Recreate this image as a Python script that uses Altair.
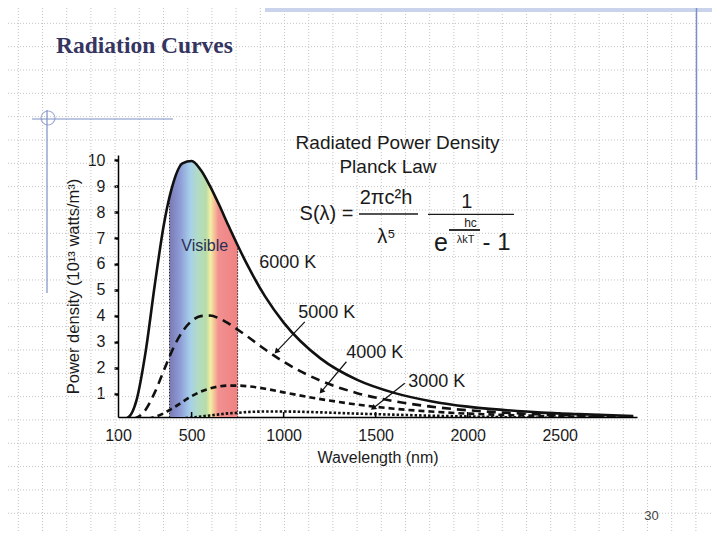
import altair as alt
import pandas as pd

# ---------------- data ----------------
wavelength_nm = [100, 150, 200, 250, 300, 350, 380, 400, 450, 500, 550, 600, 650,
                 700, 750, 800, 900, 1000, 1200, 1400, 1600, 1800, 2000, 2200,
                 2400, 2600, 2900]
s6000 = [0.00, 0.06, 0.73, 2.61, 5.20, 7.55, 8.59, 9.12, 9.88, 9.97, 9.62, 9.00, 8.27,
         7.48, 6.72, 6.00, 4.74, 3.74, 2.36, 1.53, 1.03, 0.71, 0.50, 0.37, 0.27, 0.21, 0.14]
s5000 = [0.00, 0.00, 0.07, 0.38, 1.05, 1.91, 2.43, 2.75, 3.39, 3.80, 3.99, 4.01, 3.90,
         3.71, 3.47, 3.22, 2.70, 2.23, 1.50, 1.02, 0.71, 0.50, 0.36, 0.27, 0.20, 0.16, 0.11]
s4000 = [0.00, 0.00, 0.00, 0.02, 0.10, 0.25, 0.37, 0.45, 0.68, 0.90, 1.08, 1.20, 1.28,
         1.31, 1.31, 1.29, 1.19, 1.05, 0.79, 0.58, 0.42, 0.31, 0.23, 0.18, 0.14, 0.11, 0.07]
s3000 = [0.00, 0.00, 0.00, 0.00, 0.00, 0.01, 0.02, 0.02, 0.05, 0.08, 0.12, 0.16, 0.20,
         0.24, 0.26, 0.29, 0.31, 0.31, 0.28, 0.23, 0.19, 0.15, 0.12, 0.09, 0.07, 0.06, 0.04]

visible_edges = [380, 750]
visible_edge_top = [8.59, 6.72]

label_text = ["Visible", "6000 K", "5000 K", "4000 K", "3000 K"]
label_x = [571, 1022, 1234, 1495, 1832]
label_y = [6.69, 6.04, 4.11, 2.57, 1.45]

arrow_x0 = [1115, 1341, 1658]
arrow_y0 = [3.77, 2.23, 1.40]
arrow_x1 = [961, 1205, 1486]
arrow_y1 = [2.62, 1.08, 0.44]
arrow_angle = [223, 220, 232]

x_ticks = [100, 500, 1000, 1500, 2000, 2500]
x_minor = [500, 1000, 1500, 2000, 2500]
y_ticks = [1, 2, 3, 4, 5, 6, 7, 8, 9, 10]

FONT = "Liberation Sans"
INK = "#1a1a1a"
W, H = 519, 262

# ---------------- tables ----------------
curves = {"6000": s6000, "5000": s5000, "4000": s4000, "3000": s3000}
curve_df = {k: pd.DataFrame({"lam": wavelength_nm, "s": v}) for k, v in curves.items()}
band_df = curve_df["6000"][(curve_df["6000"]["lam"] >= visible_edges[0]) &
                           (curve_df["6000"]["lam"] <= visible_edges[1])]
edge_df = pd.DataFrame({"lam": visible_edges, "s": visible_edge_top})
label_df = pd.DataFrame({"t": label_text, "lam": label_x, "s": label_y})
arrow_df = pd.DataFrame({"lam": arrow_x0, "s": arrow_y0, "x1": arrow_x1,
                         "y1": arrow_y1, "a": arrow_angle})
head_df = pd.DataFrame({"lam": arrow_x1, "s": arrow_y1, "a": arrow_angle})
tick_df = pd.DataFrame({"lam": x_minor})
one = pd.DataFrame({"d": [0]})

xs = alt.Scale(domain=[100, 2920], nice=False, zero=False)
ys = alt.Scale(domain=[0.1, 10.2], nice=False, zero=False)

x_axis = alt.Axis(values=x_ticks, format="d", labelFlush=False, grid=False, tickSize=0,
                  domainColor="black", domainWidth=1.5, labelFontSize=16,
                  labelColor=INK, labelFont=FONT, labelPadding=10,
                  title="Wavelength (nm)", titleFont=FONT, titleFontSize=16,
                  titleFontWeight="normal", titleColor=INK, titlePadding=6)
y_axis = alt.Axis(values=y_ticks, format="d", grid=False, tickSize=4, tickWidth=2.5,
                  tickColor="black", domainColor="black", domainWidth=1.5,
                  labelFontSize=16, labelColor=INK, labelFont=FONT, labelPadding=9,
                  title="Power density (10¹³ watts/m³)", titleFont=FONT,
                  titleFontSize=16.5, titleFontWeight="normal", titleColor=INK,
                  titlePadding=6)
X = alt.X("lam:Q", scale=xs, axis=x_axis)
Y = alt.Y("s:Q", scale=ys, axis=y_axis)

layers = []

# ---------------- slide background grid ----------------
grid_x = [18.3 + 24.2 * k - 118 for k in range(0, 30)]
grid_y = [23.33 * k - 155 for k in range(1, 23)]
for gx in grid_x:
    layers.append(alt.Chart(one).mark_rule(color="#c4c4c4", strokeDash=[1, 2], strokeWidth=1)
                  .encode(x=alt.value(gx), y=alt.value(-147), y2=alt.value(377)))
for gy in grid_y:
    layers.append(alt.Chart(one).mark_rule(color="#c4c4c4", strokeDash=[1, 2], strokeWidth=1)
                  .encode(y=alt.value(gy), x=alt.value(-110), x2=alt.value(594)))

# slide decorations
layers.append(alt.Chart(one).mark_rect(color="#c9d3ec")
              .encode(x=alt.value(147), x2=alt.value(594), y=alt.value(-147), y2=alt.value(-143)))
layers.append(alt.Chart(one).mark_rule(color="#7f8fc4", strokeWidth=1.5)
              .encode(x=alt.value(578.5), y=alt.value(-147), y2=alt.value(25)))
layers.append(alt.Chart(one).mark_rule(color="#7f8fc4", strokeWidth=1.2)
              .encode(x=alt.value(-86), x2=alt.value(55), y=alt.value(-36)))
layers.append(alt.Chart(one).mark_rule(color="#7f8fc4", strokeWidth=1.2)
              .encode(x=alt.value(-71), y=alt.value(-45), y2=alt.value(138)))
layers.append(alt.Chart(one).mark_point(shape="circle", size=196, color="#7f8fc4",
                                        strokeWidth=1.2, filled=False)
              .encode(x=alt.value(-70), y=alt.value(-37)))
layers.append(alt.Chart(one).mark_text(text="Radiation Curves", font="Liberation Serif",
                                       fontSize=23.5, fontWeight="bold", color="#35355f",
                                       align="left", baseline="alphabetic")
              .encode(x=alt.value(-62), y=alt.value(-102)))
layers.append(alt.Chart(one).mark_text(text="30", font=FONT, fontSize=13, color="#444444")
              .encode(x=alt.value(533.5), y=alt.value(361)))

# ---------------- chart ----------------
rainbow = alt.Gradient(
    gradient="linear", x1=0, x2=1, y1=0, y2=0,
    stops=[alt.GradientStop(color="#7a7ab2", offset=0.0),
           alt.GradientStop(color="#8d9ad6", offset=0.15),
           alt.GradientStop(color="#a6cfea", offset=0.30),
           alt.GradientStop(color="#b2dcc4", offset=0.42),
           alt.GradientStop(color="#b8dca8", offset=0.54),
           alt.GradientStop(color="#f3f0a4", offset=0.60),
           alt.GradientStop(color="#f5bf98", offset=0.66),
           alt.GradientStop(color="#f29090", offset=0.72),
           alt.GradientStop(color="#ef8282", offset=1.0)])

layers.append(alt.Chart(band_df).mark_area(interpolate="monotone", color=rainbow, clip=True)
              .encode(x=X, y=Y, y2=alt.value(H)))
layers.append(alt.Chart(edge_df).mark_rule(color="#222222", strokeDash=[1.5, 1.5], strokeWidth=1)
              .encode(x=X, y=Y, y2=alt.value(H)))
layers.append(alt.Chart(tick_df).mark_rule(color="black", strokeWidth=1.5)
              .encode(x=X, y=alt.value(H - 5), y2=alt.value(H)))

styles = {"6000": dict(),
          "5000": dict(strokeDash=[9, 6]),
          "4000": dict(strokeDash=[6, 4]),
          "3000": dict(strokeDash=[2.5, 2])}
for k in ["3000", "4000", "5000", "6000"]:
    layers.append(alt.Chart(curve_df[k]).mark_line(interpolate="monotone", color="#111111",
                                                   strokeWidth=2.6, clip=True, **styles[k])
                  .encode(x=X, y=Y))

layers.append(alt.Chart(arrow_df).mark_rule(color="#111111", strokeWidth=1.2)
              .encode(x=X, y=Y, x2="x1:Q", y2="y1:Q"))
layers.append(alt.Chart(head_df).mark_point(shape="triangle-up", filled=True, size=38,
                                            color="#111111", opacity=1)
              .encode(x=X, y=Y, angle=alt.Angle("a:Q", scale=None)))

layers.append(alt.Chart(label_df[label_df.t == "Visible"]).mark_text(
    font=FONT, fontSize=16, color="#2a2f55")
    .encode(x=X, y=Y, text="t:N"))
layers.append(alt.Chart(label_df[label_df.t != "Visible"]).mark_text(
    font=FONT, fontSize=18, color=INK)
    .encode(x=X, y=Y, text="t:N"))

# ---------------- heading and formula ----------------
def txt(s, x, y, size, **kw):
    return alt.Chart(one).mark_text(text=s, font=FONT, fontSize=size, color=INK, **kw) \
        .encode(x=alt.value(x), y=alt.value(y))

def hline(x1, x2, y, w=1.3):
    return alt.Chart(one).mark_rule(color=INK, strokeWidth=w) \
        .encode(x=alt.value(x1), x2=alt.value(x2), y=alt.value(y))

layers += [
    txt("Radiated Power Density", 279.5, -12, 19),
    txt("Planck Law", 270, 11.5, 19),
    txt("S(λ) =", 208.5, 59, 20),
    txt("2πc²h", 268, 43, 20),
    hline(241, 300, 59),
    txt("λ⁵", 268.5, 82, 20),
    txt("1", 348.7, 46.5, 20),
    hline(310, 396, 59.3),
    txt("e", 323, 88, 25),
    txt("hc", 352.5, 68, 12),
    hline(331, 362, 75, 1.8),
    txt("λkT", 347.5, 84.5, 11),
    txt("- 1", 378.5, 88, 24),
]

chart = alt.layer(*layers).properties(
    width=W, height=H,
    padding={"left": 110, "top": 147, "right": 75, "bottom": 115},
    autosize=alt.AutoSizeParams(type="none"),
    background="white",
).configure_view(stroke=None)

chart.save("out.html", embed_options={"renderer": "svg", "actions": False})
